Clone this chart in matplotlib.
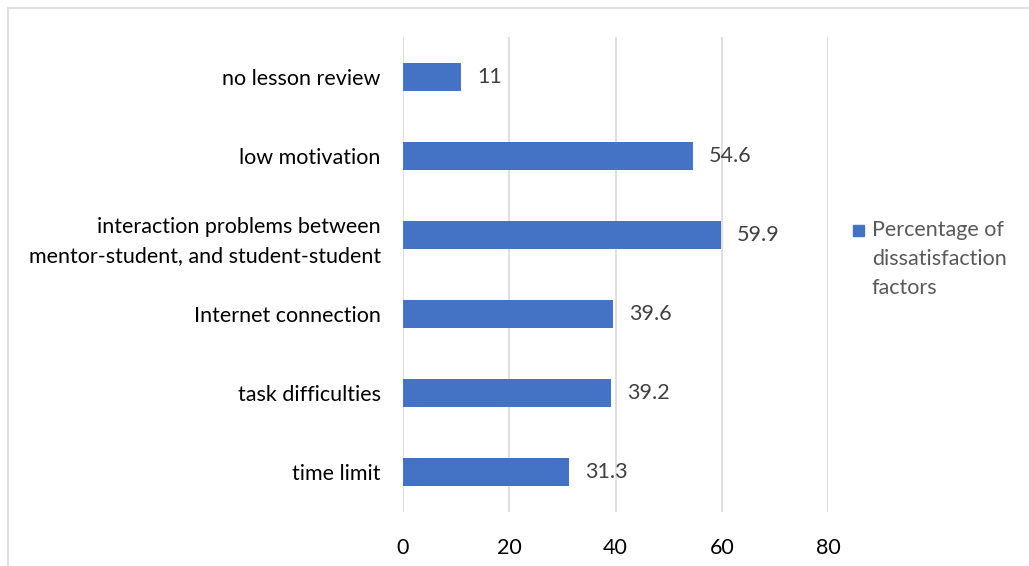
import matplotlib.pyplot as plt
from matplotlib.patches import Rectangle

plt.rcParams['font.family'] = ['Lato', 'DejaVu Sans']

# data (bottom to top)
categories = ['time limit', 'task difficulties', 'Internet connection',
              'interaction problems between\nmentor-student, and student-student',
              'low motivation', 'no lesson review']
values = [31.3, 39.2, 39.6, 59.9, 54.6, 11]
xticks = [0, 20, 40, 60, 80]
series_name = 'Percentage of\ndissatisfaction\nfactors'

bar_color = '#4472C4'
fs = 15.5

fig = plt.figure(figsize=(10.29, 5.66), dpi=100)
# outer chart frame (cropped at right/bottom)
fig.patches.append(Rectangle((8 / 1029, -0.1), 1.2, (566 - 8) / 566 + 0.1,
                             transform=fig.transFigure, fill=False,
                             edgecolor='#D9D9D9', linewidth=1.2))

ax = fig.add_axes([403 / 1029, 1 - 512 / 566, 425 / 1029, 475 / 566])
ypos = range(len(categories))
bars = ax.barh(ypos, values, height=0.355, color=bar_color, zorder=3)

for y, v in zip(ypos, values):
    ax.text(v + 2.9, y, f'{v:g}', va='center', ha='left', fontsize=fs,
            color='#404040', zorder=4)

ax.set_xlim(0, 80)
ax.set_ylim(-0.5, len(categories) - 0.5)
ax.set_xticks(xticks)
ax.set_yticks(list(ypos))
ax.set_yticklabels(categories, fontsize=fs, color='black', linespacing=1.6)
ax.tick_params(axis='x', labelsize=fs, colors='black', length=0, pad=19)
ax.tick_params(axis='y', length=0, pad=16)
ax.grid(axis='x', color='#D9D9D9', linewidth=1.2, zorder=0)
for s in ax.spines.values():
    s.set_visible(False)

# legend drawn by hand, Excel style
fig.patches.append(Rectangle((853 / 1029, 1 - 236 / 566), 11 / 1029, 11 / 566,
                             transform=fig.transFigure, color=bar_color))
fig.text(872 / 1029, 1 - 220 / 566, series_name, fontsize=fs, color='#595959',
         ha='left', va='top', linespacing=1.55)

fig.savefig('out.png', dpi=100)
